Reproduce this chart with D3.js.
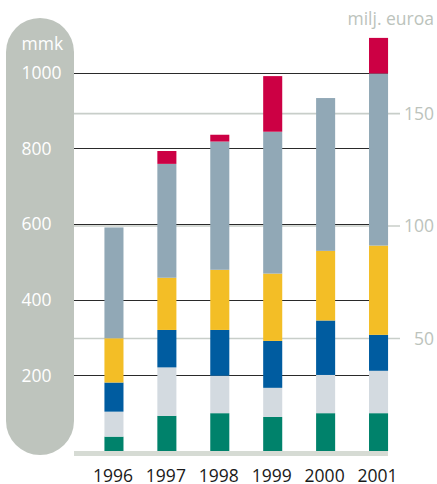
<!DOCTYPE html>
<html>
<head>
<meta charset="utf-8">
<script src="https://cdn.jsdelivr.net/npm/d3@7"></script>
<style>
  html, body { margin: 0; padding: 0; background: #fff; }
  svg { display: block; }
  text { font-family: "Open Sans", "Noto Sans", sans-serif; }
</style>
</head>
<body>
<svg id="chart" width="437" height="484"></svg>
<script>
// ---- data (mmk, million markka) ----
const years = ["1996", "1997", "1998", "1999", "2000", "2001"];
const seriesKeys = ["s1", "s2", "s3", "s4", "s5", "s6"];
const s1 = [38, 93, 100, 90, 100, 100];     // green
const s2 = [66, 128, 99, 77, 101, 112];     // light grey
const s3 = [77, 99, 121, 124, 144, 95];     // blue
const s4 = [117, 138, 159, 178, 184, 236];  // yellow
const s5 = [293, 301, 339, 375, 404, 455];  // grey-blue
const s6 = [0, 34, 18, 147, 0, 94];         // red
const leftTicks = [200, 400, 600, 800, 1000];
const rightTicks = [50, 100, 150];
const eurRate = 5.94573;
const leftUnit = "mmk";
const rightUnit = "milj. euroa";
const colors = ["#00826b", "#d3dae0", "#005ca0", "#f3be26", "#91a8b6", "#cc0044"];

const rows = years.map((y, i) => ({ year: y, s1: s1[i], s2: s2[i], s3: s3[i], s4: s4[i], s5: s5[i], s6: s6[i] }));

const svg = d3.select("#chart");
const y = d3.scaleLinear().domain([0, 1000]).range([451, 72.7]);
const yE = d3.scaleLinear().domain([0, 1000 / eurRate]).range([451, 72.7]);
const x = d3.scaleBand().domain(years).range([87.5, 405]).paddingInner(0.64).paddingOuter(0.32);

// left pill
svg.append("rect").attr("x", 6).attr("y", 18).attr("width", 68).attr("height", 437)
  .attr("rx", 34).attr("ry", 34).attr("fill", "#bec4bd");

// light (euro) grid lines
svg.selectAll("line.eg").data(rightTicks).join("line").attr("class", "eg")
  .attr("x1", 74).attr("x2", 400)
  .attr("y1", d => yE(d)).attr("y2", d => yE(d))
  .attr("stroke", "#c8cec9").attr("stroke-width", 1.6);

// dark (mmk) grid lines
svg.selectAll("line.mg").data(leftTicks).join("line").attr("class", "mg")
  .attr("x1", 74).attr("x2", 388)
  .attr("y1", d => Math.round(y(d)) + 0.5).attr("y2", d => Math.round(y(d)) + 0.5)
  .attr("stroke", "#2a2a2a").attr("stroke-width", 1.1);

// bars
const stack = d3.stack().keys(seriesKeys)(rows);
svg.append("g").selectAll("g").data(stack).join("g")
  .attr("fill", (d, i) => colors[i])
  .selectAll("rect").data(d => d).join("rect")
  .attr("x", d => x(d.data.year))
  .attr("width", x.bandwidth())
  .attr("y", d => y(d[1]))
  .attr("height", d => Math.max(0, y(d[0]) - y(d[1])));

// baseline band
svg.append("rect").attr("x", 74).attr("y", 451).attr("width", 314).attr("height", 5)
  .attr("fill", "#d6dbd4");

// left labels
svg.selectAll("text.lt").data(leftTicks).join("text").attr("class", "lt")
  .attr("x", 21.5).attr("y", d => y(d)).attr("dy", "0.36em")
  .attr("fill", "#fff").attr("font-size", 17.5).text(d => d);
svg.append("text").attr("x", 21.5).attr("y", 49.5).attr("fill", "#fff")
  .attr("font-size", 17.5).text(leftUnit);

// right labels
svg.selectAll("text.rt").data(rightTicks).join("text").attr("class", "rt")
  .attr("x", 434).attr("y", d => yE(d)).attr("dy", "0.36em").attr("text-anchor", "end")
  .attr("fill", "#bcc3bc").attr("font-size", 17.5).text(d => d);
svg.append("text").attr("x", 434).attr("y", 25).attr("text-anchor", "end")
  .attr("fill", "#bcc3bc").attr("font-size", 17.5).text(rightUnit);

// year labels
svg.selectAll("text.yr").data(years).join("text").attr("class", "yr")
  .attr("x", d => x(d) + x.bandwidth() / 2 - 1).attr("y", 482)
  .attr("text-anchor", "middle").attr("fill", "#1a1a1a").attr("font-size", 17.5).text(d => d);
</script>
</body>
</html>
